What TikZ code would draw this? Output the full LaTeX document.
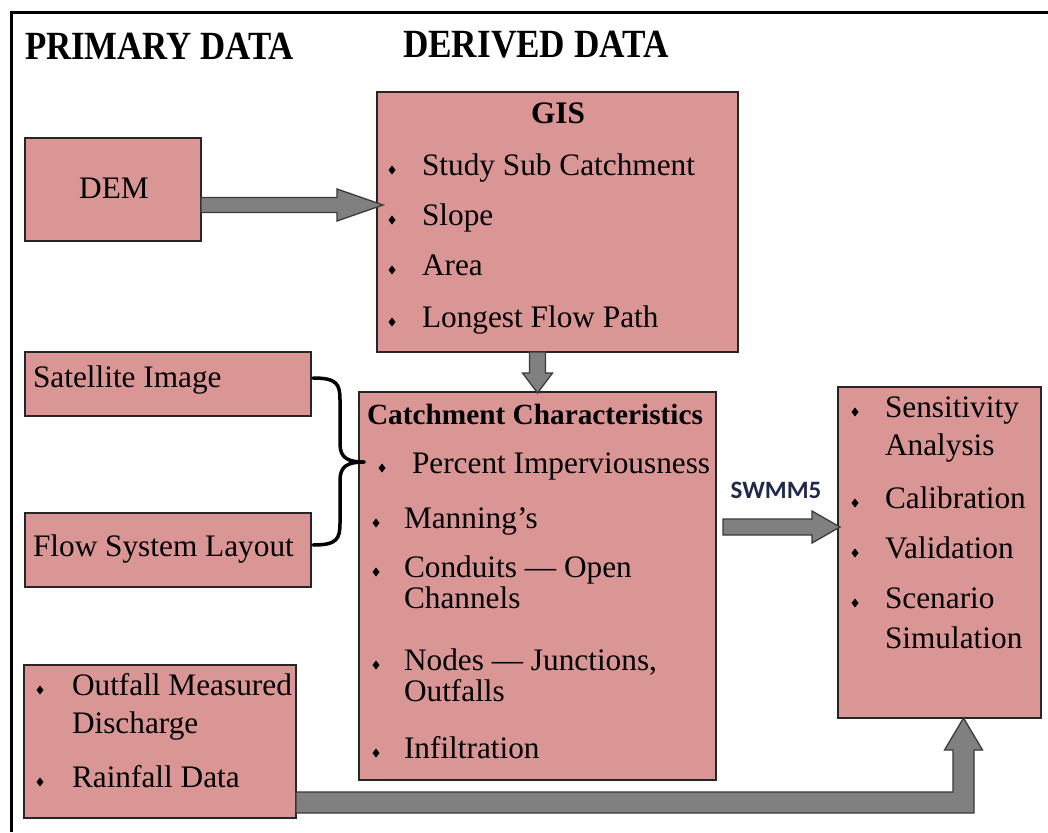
\documentclass[tikz,border=0pt]{standalone}
\usepackage{fontspec}
\usepackage{graphicx}
\setmainfont{Liberation Serif}
\newfontfamily\swfont{Carlito}
\usetikzlibrary{calc}
\definecolor{boxpink}{HTML}{D99694}
\definecolor{arrowgray}{HTML}{808080}
\definecolor{arrowedge}{HTML}{3A3A3A}
\definecolor{swblue}{HTML}{1F2A4A}
\newcommand\bodyfont{\fontsize{31.3}{36}\selectfont}
\newcommand\headfont{\fontsize{40}{46}\selectfont\bfseries}
\newcommand\bul[2]{\fill (#1,#2) +(0,-4.5) -- +(3.5,0) -- +(0,4.5) -- +(-3.5,0) -- cycle;}
\begin{document}
\begin{tikzpicture}[x=1pt,y=-1pt,
  box/.style={draw=black!85, line width=1.5pt, fill=boxpink, inner sep=0pt, outer sep=0pt, anchor=north west},
  txt/.style={anchor=base west, inner sep=0pt, outer sep=0pt, font=\bodyfont},
  head/.style={anchor=base west, inner sep=0pt, outer sep=0pt, font=\headfont},
  blockarrow/.style={fill=arrowgray, draw=arrowedge, line width=1.3pt, line join=miter},
  brace/.style={draw=black, line width=3.5pt, line cap=round, line join=round}]
\useasboundingbox (0,0) rectangle (1048,832);
\fill[white] (0,0) rectangle (1048,832);
\draw[line width=3pt] (11,832) -- (11,13) -- (1048,13);

% headings
\node[head] (hp) at (25,60) {\scalebox{0.87}[1]{PRIMARY DATA}};
\node[head] (hd) at (403,58) {\scalebox{0.88}[1]{DERIVED DATA}};

% boxes
\node[box, minimum width=176pt, minimum height=103pt] (dem) at (25,138) {};
\node[box, minimum width=361pt, minimum height=260pt] (gis) at (377,92) {};
\node[box, minimum width=286pt, minimum height=64pt] (sat) at (25,352) {};
\node[box, minimum width=286pt, minimum height=74pt] (flow) at (25,513) {};
\node[box, minimum width=357pt, minimum height=388pt] (catch) at (359,392) {};
\node[box, minimum width=203pt, minimum height=331pt] (right) at (838,387) {};
\node[box, minimum width=272pt, minimum height=153pt] (outf) at (24,665) {};

% DEM
\node[txt, anchor=base] (tdem) at (114,198) {DEM};

% GIS
\node[txt, anchor=base, font=\bodyfont\bfseries] (tgis) at (558,123) {GIS};
\node[txt] (g1) at (422,175) {Study Sub Catchment};
\node[txt] (g2) at (422,225) {Slope};
\node[txt] (g3) at (422,275) {Area};
\node[txt] (g4) at (422,327) {Longest Flow Path};
\bul{392}{170}\bul{392}{220}\bul{392}{270}\bul{392}{322}

% satellite, flow
\node[txt] (ts) at (33,387) {Satellite Image};
\node[txt] (tf) at (33,556) {Flow System Layout};

% catchment
\node[txt, font=\fontsize{29.3}{34}\selectfont\bfseries] (tc) at (367,424) {Catchment Characteristics};
\node[txt] (c1) at (412,473) {Percent Imperviousness};
\node[txt] (c2) at (404,528) {Manning’s};
\node[txt] (c3) at (404,577) {Conduits — Open};
\node[txt] (c3b) at (404,608) {Channels};
\node[txt] (c4) at (404,670) {Nodes — Junctions,};
\node[txt] (c4b) at (404,701) {Outfalls};
\node[txt] (c5) at (404,758) {Infiltration};
\bul{382}{468}\bul{376}{523}\bul{376}{572}\bul{376}{665}\bul{376}{753}

% right box
\node[txt] (r1) at (885,417) {Sensitivity};
\node[txt] (r1b) at (885,455) {Analysis};
\node[txt] (r2) at (885,508) {Calibration};
\node[txt] (r3) at (885,558) {Validation};
\node[txt] (r4) at (885,608) {Scenario};
\node[txt] (r4b) at (885,648) {Simulation};
\bul{855}{412}\bul{855}{503}\bul{855}{553}\bul{855}{603}

% outfall box
\node[txt] (o1) at (72,695) {Outfall Measured};
\node[txt] (o1b) at (72,733) {Discharge};
\node[txt] (o2) at (72,787) {Rainfall Data};
\bul{40}{690}\bul{40}{782}

% SWMM5 label
\node[anchor=base, inner sep=0pt, text=swblue, font=\swfont\bfseries\fontsize{25}{30}\selectfont] (sw) at (776,498) {SWMM5};

% arrows
\coordinate (a1t) at ($(gis.west)+(6,-17)$);
\draw[blockarrow] ($(dem.east |- a1t)+(0,-7.5)$) -- ($(a1t)+(-46,-7.5)$) -- ($(a1t)+(-46,-16)$) -- (a1t)
  -- ($(a1t)+(-46,16)$) -- ($(a1t)+(-46,7.5)$) -- ($(dem.east |- a1t)+(0,7.5)$) -- cycle;

\coordinate (a2t) at ($(catch.north)+(0,1)$);
\draw[blockarrow] ($(a2t |- gis.south)+(-8,0)$) -- ($(a2t)+(-8,-20)$) -- ($(a2t)+(-15,-20)$) -- (a2t)
  -- ($(a2t)+(15,-20)$) -- ($(a2t)+(8,-20)$) -- ($(a2t |- gis.south)+(8,0)$) -- cycle;

\coordinate (a3t) at ($(right.west)+(2,-25.5)$);
\draw[blockarrow] ($(catch.east |- a3t)+(7,-8)$) -- ($(a3t)+(-28,-8)$) -- ($(a3t)+(-28,-16)$) -- (a3t)
  -- ($(a3t)+(-28,16)$) -- ($(a3t)+(-28,8)$) -- ($(catch.east |- a3t)+(7,8)$) -- cycle;

\coordinate (t3) at ($(right.south)+(24,0)$);
\draw[blockarrow] ($(outf.east |- t3)+(0,74)$) -- ($(t3)+(-10.5,74)$) -- ($(t3)+(-10.5,32)$) -- ($(t3)+(-19,32)$)
  -- (t3) -- ($(t3)+(19,32)$) -- ($(t3)+(10.5,32)$) -- ($(t3)+(10.5,95)$) -- ($(outf.east |- t3)+(0,95)$) -- cycle;

% brace
\coordinate (b1) at ($(sat.east)+(2,-6)$);
\coordinate (b3) at ($(flow.east)+(2,-5)$);
\coordinate (bm) at ($(catch.west)+(5,-124)$);
\draw[brace] (b1) .. controls ($(b1)+(24,0)$) and ($(b1)+(27,6)$) .. ($(b1)+(27,22)$)
  -- ($(bm)+(-24,-18)$) .. controls ($(bm)+(-24,-4)$) and ($(bm)+(-16,0)$) .. (bm);
\draw[brace] (bm) .. controls ($(bm)+(-16,0)$) and ($(bm)+(-24,4)$) .. ($(bm)+(-24,18)$)
  -- ($(b3)+(27,-22)$) .. controls ($(b3)+(27,-6)$) and ($(b3)+(24,0)$) .. (b3);
\end{tikzpicture}
\end{document}
